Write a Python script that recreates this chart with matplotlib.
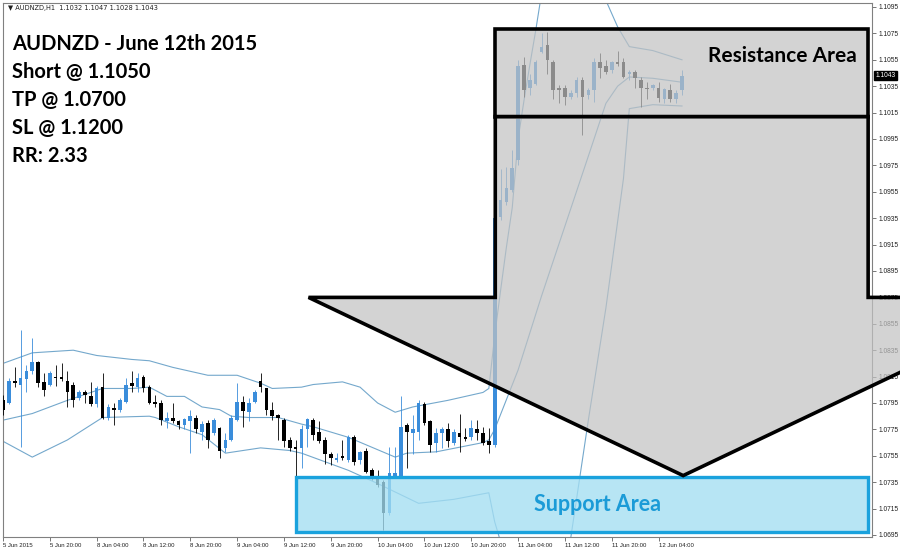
import numpy as np
import matplotlib
matplotlib.use("Agg")
import matplotlib.pyplot as plt
from matplotlib.patches import Polygon, Rectangle
from matplotlib.transforms import blended_transform_factory

# AUDNZD H1 candles, 5 Jun 12:00 .. 12 Jun 08:00
opens = [1.0797, 1.0795, 1.0812, 1.0809, 1.0813, 1.0819, 1.0826, 1.0811, 1.0809, 1.0815,
         1.0815, 1.0812, 1.0809, 1.0799, 1.0803, 1.0800, 1.0794, 1.0807, 1.0784, 1.0791,
         1.0790, 1.0796, 1.0810, 1.0807, 1.0815, 1.0807, 1.0796, 1.0795, 1.0781, 1.0784,
         1.0781, 1.0778, 1.0781, 1.0784, 1.0773, 1.0780, 1.0772, 1.0776, 1.0761, 1.0767,
         1.0782, 1.0796, 1.0788, 1.0796, 1.0812, 1.0806, 1.0790, 1.0786, 1.0782, 1.0767,
         1.0762, 1.0761, 1.0775, 1.0782, 1.0773, 1.0767, 1.0756, 1.0752, 1.0755, 1.0752,
         1.0769, 1.0752, 1.0759, 1.0744, 1.0739, 1.0735, 1.0712, 1.0740, 1.0739, 1.0778,
         1.0772, 1.0773, 1.0794, 1.0781, 1.0765, 1.0772, 1.0775, 1.0765, 1.0772, 1.0769,
         1.0769, 1.0775, 1.0772, 1.0766, 1.0763, 1.0936, 1.0947, 1.0956, 1.0979, 1.1051,
         1.1034, 1.1037, 1.1061, 1.1066, 1.1053, 1.1034, 1.1034, 1.1027, 1.1030, 1.1040,
         1.1028, 1.1032, 1.1053, 1.1050, 1.1047, 1.1053, 1.1053, 1.1044, 1.1046, 1.1040,
         1.1034, 1.1034, 1.1034, 1.1025, 1.1032, 1.1025, 1.1032]
highs = [1.0801, 1.0814, 1.0822, 1.0850, 1.0824, 1.0844, 1.0827, 1.0818, 1.0819, 1.0824,
         1.0825, 1.0819, 1.0811, 1.0805, 1.0805, 1.0811, 1.0808, 1.0818, 1.0794, 1.0795,
         1.0799, 1.0814, 1.0819, 1.0818, 1.0816, 1.0809, 1.0801, 1.0797, 1.0788, 1.0795,
         1.0782, 1.0784, 1.0790, 1.0786, 1.0781, 1.0782, 1.0784, 1.0777, 1.0772, 1.0786,
         1.0810, 1.0800, 1.0799, 1.0805, 1.0818, 1.0806, 1.0796, 1.0787, 1.0784, 1.0769,
         1.0767, 1.0778, 1.0784, 1.0784, 1.0781, 1.0769, 1.0758, 1.0757, 1.0767, 1.0771,
         1.0771, 1.0759, 1.0761, 1.0746, 1.0744, 1.0737, 1.0762, 1.0762, 1.0800, 1.0780,
         1.0786, 1.0797, 1.0796, 1.0782, 1.0776, 1.0777, 1.0780, 1.0775, 1.0787, 1.0776,
         1.0782, 1.0782, 1.0777, 1.0776, 1.0941, 1.0972, 1.0974, 1.0987, 1.1055, 1.1057,
         1.1044, 1.1055, 1.1075, 1.1076, 1.1055, 1.1036, 1.1036, 1.1032, 1.1042, 1.1042,
         1.1034, 1.1056, 1.1060, 1.1055, 1.1054, 1.1062, 1.1056, 1.1047, 1.1047, 1.1042,
         1.1038, 1.1037, 1.1038, 1.1034, 1.1037, 1.1032, 1.1047]
lows = [1.0786, 1.0794, 1.0807, 1.0762, 1.0803, 1.0817, 1.0807, 1.0800, 1.0808, 1.0808,
        1.0812, 1.0792, 1.0792, 1.0797, 1.0795, 1.0793, 1.0792, 1.0783, 1.0782, 1.0778,
        1.0788, 1.0795, 1.0803, 1.0803, 1.0803, 1.0794, 1.0792, 1.0778, 1.0776, 1.0780,
        1.0775, 1.0775, 1.0757, 1.0772, 1.0767, 1.0761, 1.0771, 1.0753, 1.0758, 1.0766,
        1.0781, 1.0777, 1.0781, 1.0795, 1.0803, 1.0786, 1.0782, 1.0767, 1.0762, 1.0759,
        1.0737, 1.0746, 1.0762, 1.0767, 1.0765, 1.0749, 1.0748, 1.0750, 1.0752, 1.0750,
        1.0748, 1.0749, 1.0742, 1.0737, 1.0731, 1.0699, 1.0710, 1.0738, 1.0738, 1.0746,
        1.0756, 1.0767, 1.0778, 1.0758, 1.0758, 1.0761, 1.0762, 1.0763, 1.0758, 1.0766,
        1.0767, 1.0767, 1.0763, 1.0757, 1.0762, 1.0934, 1.0945, 1.0955, 1.0975, 1.1027,
        1.1028, 1.1036, 1.1060, 1.1044, 1.1025, 1.1022, 1.1021, 1.1025, 1.1027, 1.0998,
        1.1025, 1.1023, 1.1041, 1.1044, 1.1045, 1.1050, 1.1041, 1.1040, 1.1034, 1.1019,
        1.1025, 1.1032, 1.1023, 1.1022, 1.1023, 1.1022, 1.1028]
closes = [1.0790, 1.0812, 1.0810, 1.0814, 1.0819, 1.0826, 1.0810, 1.0805, 1.0818, 1.0814,
          1.0813, 1.0803, 1.0797, 1.0803, 1.0801, 1.0794, 1.0806, 1.0784, 1.0792, 1.0790,
          1.0797, 1.0809, 1.0808, 1.0814, 1.0806, 1.0795, 1.0794, 1.0782, 1.0784, 1.0781,
          1.0778, 1.0783, 1.0785, 1.0775, 1.0779, 1.0767, 1.0782, 1.0759, 1.0767, 1.0784,
          1.0796, 1.0789, 1.0795, 1.0803, 1.0807, 1.0790, 1.0785, 1.0784, 1.0766, 1.0761,
          1.0760, 1.0775, 1.0783, 1.0771, 1.0766, 1.0756, 1.0753, 1.0753, 1.0753, 1.0769,
          1.0750, 1.0758, 1.0743, 1.0740, 1.0733, 1.0712, 1.0742, 1.0742, 1.0777, 1.0773,
          1.0775, 1.0795, 1.0780, 1.0763, 1.0772, 1.0775, 1.0766, 1.0773, 1.0769, 1.0768,
          1.0776, 1.0772, 1.0765, 1.0763, 1.0935, 1.0949, 1.0958, 1.0973, 1.1050, 1.1032,
          1.1040, 1.1053, 1.1065, 1.1055, 1.1032, 1.1032, 1.1027, 1.1030, 1.1040, 1.1027,
          1.1032, 1.1053, 1.1049, 1.1046, 1.1053, 1.1052, 1.1042, 1.1046, 1.1041, 1.1034,
          1.1033, 1.1036, 1.1026, 1.1033, 1.1025, 1.1030, 1.1043]

# Bollinger bands (bar index, price)
upper_idx = [0, 5, 12, 16, 22, 25, 29, 35, 40, 44, 46, 51, 53, 58, 61, 64, 67, 70, 76, 82,
             83, 84, 85, 86, 87, 88, 89, 90, 91, 92, 95, 99, 103, 105, 107, 111, 116]
upper_val = [1.0825, 1.0833, 1.0835, 1.0831, 1.0828, 1.0827, 1.0822, 1.0816, 1.0816, 1.0810,
             1.0806, 1.0807, 1.0809, 1.0811, 1.0807, 1.0795, 1.0788, 1.0792, 1.0797, 1.0803,
             1.0806, 1.0846, 1.0880, 1.0913, 1.0943, 1.0995, 1.1024, 1.1051, 1.1077, 1.1105,
             1.1150, 1.1160, 1.1100, 1.1080, 1.1065, 1.1062, 1.1055]
middle_idx = [0, 5, 11, 17, 22, 25, 28, 31, 34, 37, 39, 42, 45, 47, 51, 53, 59, 67, 69, 74,
              82, 83, 84, 88, 92, 96, 100, 103, 105, 107, 111, 116]
middle_val = [1.0782, 1.0787, 1.0797, 1.0806, 1.0806, 1.0807, 1.0800, 1.0800, 1.0792, 1.0790,
              1.0785, 1.0784, 1.0784, 1.0784, 1.0779, 1.0777, 1.0769, 1.0754, 1.0757, 1.0758,
              1.0765, 1.0767, 1.0775, 1.0820, 1.0876, 1.0929, 1.0982, 1.1022, 1.1035, 1.1042,
              1.1041, 1.1038]
lower_idx = [0, 5, 11, 17, 25, 26, 30, 34, 38, 44, 49, 51, 59, 64, 71, 77, 83, 84, 85, 86,
             88, 90, 94, 97, 100, 103, 106, 107, 111, 116]
lower_val = [1.0766, 1.0754, 1.0767, 1.0784, 1.0785, 1.0784, 1.0777, 1.0771, 1.0757, 1.0761,
             1.0759, 1.0757, 1.0744, 1.0734, 1.0719, 1.0722, 1.0727, 1.0705, 1.0690, 1.0680,
             1.0650, 1.0635, 1.0645, 1.0693, 1.0782, 1.0867, 1.0965, 1.1018, 1.1021, 1.1020]

time_labels = ["5 Jun 2015", "5 Jun 20:00", "8 Jun 04:00", "8 Jun 12:00", "8 Jun 20:00",
               "9 Jun 04:00", "9 Jun 12:00", "9 Jun 20:00", "10 Jun 04:00", "10 Jun 12:00",
               "10 Jun 20:00", "11 Jun 04:00", "11 Jun 12:00", "11 Jun 20:00", "12 Jun 04:00"]

trade_lines = ["AUDNZD - June 12th 2015", "Short @ 1.1050", "TP @ 1.0700",
               "SL @ 1.1200", "RR: 2.33"]

# drawn zones (price levels / bar positions)
res_lo, res_hi = 1.1012, 1.1078
sup_lo, sup_hi = 1.0697, 1.0739
arrow_base, arrow_tip = 1.0875, 1.0740
res_start, sup_start, zone_end = 84.1, 50.0, 147.8
head_left, head_tip, head_right = 52.2, 116.2, 180.2

BULL = "#3a8ddb"
BEAR = "#000000"
BAND = "#74a8cc"

fig = plt.figure(figsize=(9, 5.56), dpi=100)
ax = fig.add_axes([3 / 900, 19 / 556, 869 / 900, 534 / 556])

o = np.array(opens)
c = np.array(closes)
x = np.arange(len(o))
cols = np.where(c >= o, BULL, BEAR)
ax.vlines(x, lows, highs, colors=cols, lw=0.6, zorder=3)
bottom = np.minimum(o, c)
height = np.maximum(np.abs(c - o), 0.00005)
ax.bar(x, height, bottom=bottom, width=0.62, color=cols, zorder=4, linewidth=0)

ax.plot(upper_idx, upper_val, color=BAND, lw=0.8, zorder=2)
ax.plot(middle_idx, middle_val, color=BAND, lw=0.8, zorder=2)
ax.plot(lower_idx, lower_val, color=BAND, lw=0.8, zorder=2)

ax.set_xlim(0.17, 148.46)
ax.set_ylim(1.069348, 1.109803)

# axes styling, MT4 look
for s in ax.spines.values():
    s.set_color("#808080")
    s.set_linewidth(0.8)
ax.yaxis.tick_right()
yt = [round(1.0695 + 0.002 * k, 4) for k in range(21)]
ax.set_yticks(yt)
ax.set_yticklabels([f"{v:.4f}" for v in yt], family="Liberation Sans", fontsize=4.8)
ax.set_xticks(range(0, 8 * len(time_labels), 8))
ax.set_xticklabels(time_labels, ha="left", family="Liberation Sans", fontsize=4.3)
ax.tick_params(axis="both", length=3, width=0.5, color="#404040",
               labelcolor="#202020", pad=1.5)

# current price tag
tr = blended_transform_factory(ax.transAxes, ax.transData)
ax.text(1.004, closes[-1], f"{closes[-1]:.4f}", transform=tr, fontsize=4.8,
        family="Liberation Sans", color="white", ha="left", va="center", zorder=20,
        clip_on=False, bbox=dict(boxstyle="square,pad=0.2", fc="black", ec="black"))

# support area
ax.add_patch(Rectangle((sup_start, sup_lo), zone_end - sup_start, sup_hi - sup_lo,
                       facecolor=(0.64, 0.87, 0.95, 0.78), edgecolor="#1aa2dd",
                       lw=2.4, zorder=10, clip_on=False))
ax.text(101.5, (sup_lo + sup_hi) / 2, "Support Area",
        color="#1b9bd7", fontsize=15.5, family="Lato", fontweight="bold",
        ha="center", va="center", zorder=12)

# resistance area and arrow
gray = (0.76, 0.76, 0.76, 0.72)
ax.add_patch(Rectangle((res_start, res_lo), zone_end - res_start, res_hi - res_lo,
                       facecolor=gray, edgecolor="black", lw=2.6, zorder=10, clip_on=False))
arrow = [(res_start, res_lo), (zone_end, res_lo), (zone_end, arrow_base),
         (head_right, arrow_base), (head_tip, arrow_tip), (head_left, arrow_base),
         (res_start, arrow_base)]
ax.add_patch(Polygon(arrow, closed=True, facecolor=gray, edgecolor="black", lw=2.6,
                     joinstyle="miter", zorder=10, clip_on=False))
ax.text(133.1, 1.1058, "Resistance Area", color="black", fontsize=15, family="Lato",
        fontweight="bold", ha="center", va="center", zorder=12)

# header line and trade notes
fig.text(8 / 900, 1 - 8 / 556,
         f"\u25bc AUDNZD,H1  {opens[-1]:.4f} {highs[-1]:.4f} {lows[-1]:.4f} {closes[-1]:.4f}",
         fontsize=4.8, color="#202020", va="center")
for k, line in enumerate(trade_lines):
    fig.text(12 / 900, 1 - (44 + 28 * k) / 556, line, fontsize=14.5, family="Lato",
             fontweight="bold", color="black", va="center")

fig.savefig("out.png", dpi=100, facecolor="white")
